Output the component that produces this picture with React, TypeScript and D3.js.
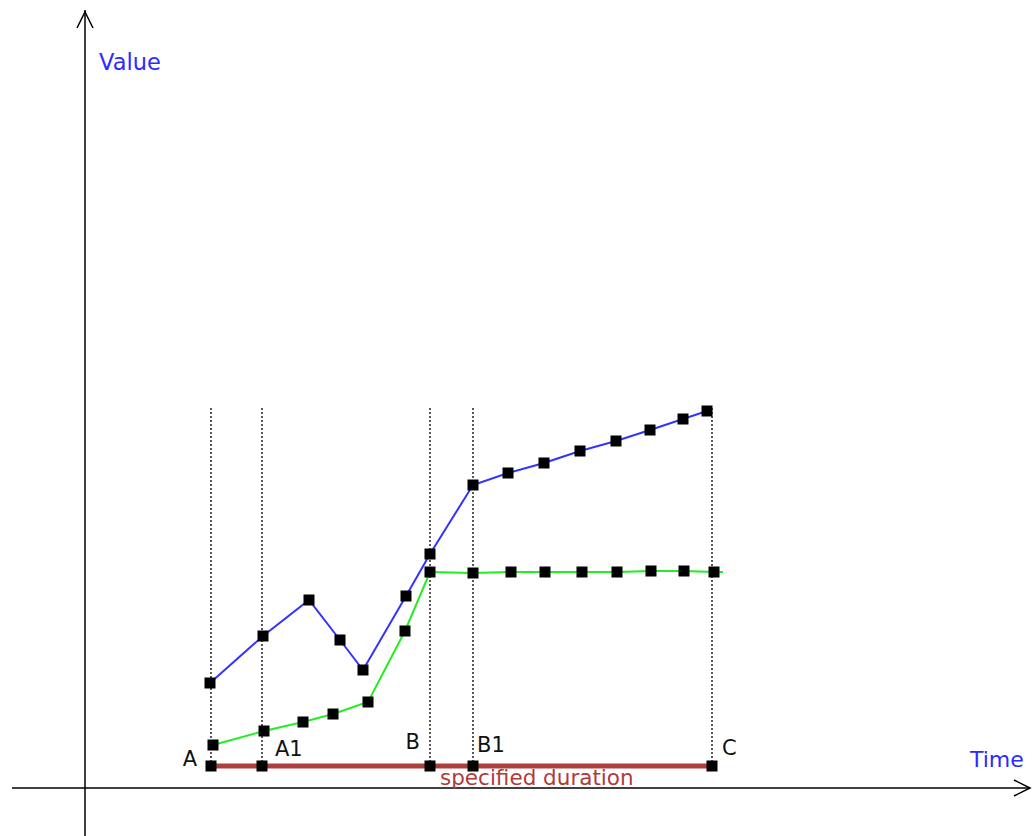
import React from "react";
import * as d3 from "d3";

// Time / value units (arbitrary units)
const blueTimes = [125, 178, 224, 255, 278, 321, 345, 388, 423, 459, 495, 531, 565, 598, 622];
const blueValues = [105, 152, 188, 148, 118, 192, 234, 303, 315, 325, 337, 347, 358, 369, 377];

const greenTimes = [128, 179, 218, 248, 283, 320, 345, 388, 426, 460, 497, 532, 566, 599, 629];
const greenValues = [43, 57, 66, 74, 86, 157, 216, 215, 216, 216, 216, 216, 217, 217, 216];
const greenLineEnd = [638, 216];

const milestoneNames = ["A", "A1", "B", "B1", "C"];
const milestoneTimes = [126, 177, 345, 388, 627];
const durationValue = 22;
const guideTopValue = 380;

// label placement (pixel offsets) — styling, not data
const labelStyle = [
  { dx: -14, y: 766, anchor: "end" },
  { dx: 13, y: 756, anchor: "start" },
  { dx: -10, y: 749, anchor: "end" },
  { dx: 4, y: 752, anchor: "start" },
  { dx: 10, y: 755, anchor: "start" },
];

const W = 1035;
const H = 836;

export default function App() {
  const x = d3.scaleLinear().domain([0, 945]).range([85, 1030]);
  const y = d3.scaleLinear().domain([0, 776]).range([788, 12]);

  const blue = blueTimes.map((t, i) => [t, blueValues[i]] as [number, number]);
  const green = greenTimes.map((t, i) => [t, greenValues[i]] as [number, number]);
  const greenLine = [...green, greenLineEnd as [number, number]];

  const line = d3
    .line<[number, number]>()
    .x((d) => x(d[0]))
    .y((d) => y(d[1]));

  const font = "'DejaVu Sans', Verdana, sans-serif";
  const ms = 11;

  const marker = (cx: number, cy: number, key: string) => (
    <rect key={key} x={cx - ms / 2} y={cy - ms / 2} width={ms} height={ms} fill="#000" />
  );

  return (
    <svg
      width={W}
      height={H}
      style={{ position: "absolute", left: 0, top: 0, background: "#fff" }}
      fontFamily={font}
    >
      {/* guide lines */}
      {milestoneTimes.map((t, i) => (
        <line
          key={"g" + i}
          x1={x(t)}
          x2={x(t)}
          y1={y(guideTopValue)}
          y2={y(durationValue)}
          stroke="#000"
          strokeWidth={1.3}
          strokeDasharray="2,2"
        />
      ))}

      {/* axes */}
      <line x1={x(0)} x2={x(0)} y1={y(776) - 2} y2={H} stroke="#000" strokeWidth={1.5} />
      <path
        d={`M${x(0) - 8},${y(776) + 16} L${x(0)},${y(776)} L${x(0) + 8},${y(776) + 16}`}
        fill="none"
        stroke="#000"
        strokeWidth={1.5}
      />
      <line x1={12} x2={x(945)} y1={y(0)} y2={y(0)} stroke="#000" strokeWidth={1.5} />
      <path
        d={`M${x(945) - 16},${y(0) - 8} L${x(945)},${y(0)} L${x(945) - 16},${y(0) + 8}`}
        fill="none"
        stroke="#000"
        strokeWidth={1.5}
      />

      {/* duration bar */}
      <line
        x1={x(milestoneTimes[0])}
        x2={x(milestoneTimes[milestoneTimes.length - 1])}
        y1={y(durationValue)}
        y2={y(durationValue)}
        stroke="#a52a2a"
        strokeOpacity={0.9}
        strokeWidth={5}
      />

      {/* series lines */}
      <path d={line(greenLine) || ""} fill="none" stroke="#22ee22" strokeWidth={2} />
      <path d={line(blue) || ""} fill="none" stroke="#3333ff" strokeWidth={2} />

      {/* markers */}
      {blue.map((d, i) => marker(x(d[0]), y(d[1]), "b" + i))}
      {green.map((d, i) => marker(x(d[0]), y(d[1]), "gr" + i))}
      {milestoneTimes.map((t, i) => marker(x(t), y(durationValue), "m" + i))}

      {/* milestone labels */}
      {milestoneNames.map((n, i) => (
        <text
          key={"l" + i}
          x={x(milestoneTimes[i]) + labelStyle[i].dx}
          y={labelStyle[i].y}
          textAnchor={labelStyle[i].anchor as any}
          fontSize={21}
          fill="#111"
        >
          {n}
        </text>
      ))}

      <text x={440} y={785} fontSize={21.5} fill="#b03a3a">
        specified duration
      </text>
      <text x={99} y={70} fontSize={22.5} fill="#2b2bff">
        Value
      </text>
      <text x={970} y={767} fontSize={22} fill="#2b2bff">
        Time
      </text>
    </svg>
  );
}
